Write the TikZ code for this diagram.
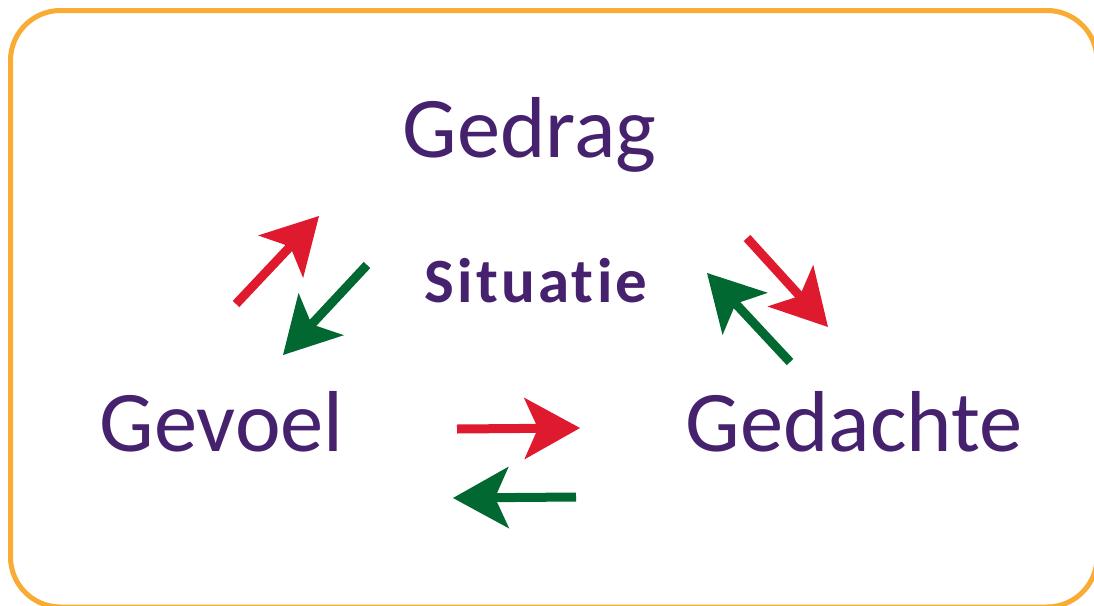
\documentclass[tikz,border=0pt]{standalone}
\usepackage{fontspec}
\setmainfont[Ligatures={NoCommon,NoRequired,NoContextual}]{Carlito}
\newfontfamily\sitfont[LetterSpace=5,Ligatures={NoCommon,NoRequired,NoContextual}]{Carlito}
\usetikzlibrary{arrows.meta}
\definecolor{purp}{HTML}{45216E}
\definecolor{orng}{HTML}{F9AC33}
\definecolor{redc}{HTML}{E01A2E}
\definecolor{grnc}{HTML}{006830}
\tikzset{
  label/.style={anchor=base, inner sep=0pt, text=purp, font=\fontsize{86.5}{86.5}\selectfont},
  sit/.style={anchor=base, inner sep=0pt, text=purp, font=\sitfont\bfseries\fontsize{63}{63}\selectfont},
  arr/.style={line width=9pt, -{Stealth[length=56pt,width=62pt,inset=14pt,line width=0pt]}},
  redarr/.style={arr, draw=redc, fill=redc},
  grnarr/.style={arr, draw=grnc, fill=grnc},
  frame/.style={draw=orng, line width=5pt, rounded corners=50pt}
}
\begin{document}
\begin{tikzpicture}[x=1pt,y=-1pt]
\useasboundingbox (0,0) rectangle (1094,605);
\clip (0,0) rectangle (1094,605);
\fill[white] (0,0) rectangle (1094,605);
\draw[frame] (10.5,10.5) rectangle (1097,607);
\node[label] (gedrag) at (529.5,157) {Gedrag};
\node[sit] (situatie) at (536,302) {Situatie};
\node[label] (gevoel) at (221.5,451) {Gevoel};
\node[label] (gedachte) at (854,451) {Gedachte};
\coordinate (a1s) at (236,304); \coordinate (a1e) at (319,216);
\coordinate (a2s) at (367,265); \coordinate (a2e) at (283,355);
\coordinate (a3s) at (747,238); \coordinate (a3e) at (828,327);
\coordinate (a4s) at (790,362); \coordinate (a4e) at (707,273);
\coordinate (a5s) at (457,429); \coordinate (a5e) at (580,428);
\coordinate (a6s) at (576,497); \coordinate (a6e) at (453,498);
\draw[redarr] (a1s) -- (a1e);
\draw[grnarr] (a2s) -- (a2e);
\draw[redarr] (a3s) -- (a3e);
\draw[grnarr] (a4s) -- (a4e);
\draw[redarr] (a5s) -- (a5e);
\draw[grnarr] (a6s) -- (a6e);
\end{tikzpicture}
\end{document}
